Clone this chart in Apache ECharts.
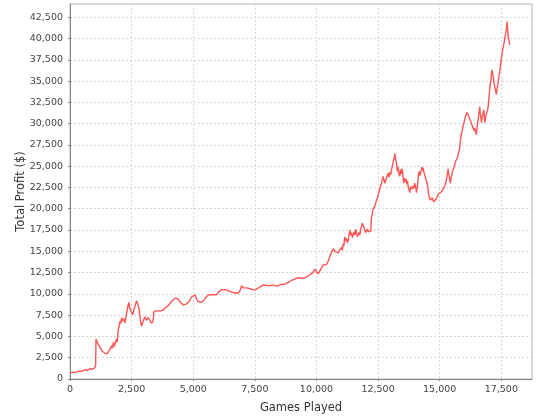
<!DOCTYPE html>
<html>
<head>
<meta charset="utf-8">
<script src="https://cdn.jsdelivr.net/npm/echarts@6/dist/echarts.min.js"></script>
<style>html,body{margin:0;padding:0;background:#fff}#c{width:540px;height:420px}</style>
</head>
<body>
<div id="c"></div>
<script>
var games = [0,100,250,400,500,600,700,800,900,1000,1040,1055,1100,1200,1300,1400,1490,1560,1620,1680,1720,1760,1800,1850,1890,1920,1950,2000,2030,2060,2095,2120,2150,2175,2200,2230,2255,2280,2330,2360,2390,2420,2460,2500,2540,2600,2635,2700,2750,2800,2850,2900,2950,3000,3050,3100,3175,3230,3310,3370,3405,3450,3520,3600,3650,3720,3800,3870,3920,3980,4050,4120,4180,4260,4320,4390,4450,4520,4595,4650,4720,4800,4865,4920,5000,5070,5120,5200,5270,5340,5405,5470,5540,5600,5680,5745,5800,5880,5950,6020,6100,6160,6215,6300,6400,6480,6555,6620,6700,6760,6830,6900,6965,7030,7100,7170,7235,7300,7400,7500,7575,7650,7720,7840,7920,8000,8110,8200,8300,8400,8515,8600,8700,8790,8900,9000,9100,9195,9280,9350,9450,9530,9600,9680,9730,9800,9850,9935,10000,10070,10140,10200,10270,10340,10410,10480,10545,10610,10680,10750,10800,10880,10950,
11020,11050,11080,11110,11150,11185,11220,11255,11290,11320,11355,11390,11420,11455,11490,11525,11560,11595,11625,11660,11690,11725,11760,11795,11830,11860,11895,11930,11960,11995,12030,12065,12100,12135,12165,12200,12230,
12300,12370,12435,12500,12570,12640,12705,12770,12840,
12910,12945,12980,13010,13045,13080,13120,13150,13180,13210,13245,13280,13310,13345,13380,13410,13440,13470,13490,13520,13545,13575,13600,13630,13660,13690,13720,13755,13790,13820,13850,13885,13920,13955,13990,14025,14060,14090,14110,14140,14165,14200,14230,14260,14280,14305,14325,14360,14390,14430,14465,14495,14520,14545,14570,
14630,14700,14750,14800,14870,14935,15000,15070,15140,15200,15275,
15340,15365,15390,15410,15435,15460,15490,15515,15545,15580,15610,15645,15680,15710,15730,15760,15785,15815,15840,15870,15900,15925,15950,15985,16020,16050,16085,16110,16140,16165,16190,16220,16245,16275,16300,16330,16355,16390,16420,16455,16490,16525,16560,16595,16625,16645,16660,16680,16695,16720,16740,16765,16790,16810,16830,16865,16900,16930,16960,
17000,17030,17055,17080,17100,17125,17150,17180,17205,17235,17265,17300,17320,17340,17355,17370,17400,17435,17470,17505,17535,17570,17600,17640,17665,17690,17710,17735,17750,17760,17775,17790,17800,17820,17840];
var profit = [700,800,780,950,900,1100,1000,1200,1150,1300,1600,4700,4300,3800,3300,3050,2950,3200,3500,3900,3600,4300,3800,4400,4700,4300,5600,6300,6800,6500,7200,6800,6600,7100,7000,6600,7000,7500,8200,8700,9000,8400,8100,7900,7550,8200,8500,9200,8800,8300,7000,6200,6600,7050,7300,6900,7200,7000,6550,6800,7900,7800,8000,7850,8000,7900,8100,8400,8350,8600,8800,9100,9000,9500,9300,9400,9100,8900,8700,8900,8800,9000,9200,9600,9800,9900,9500,9100,9300,9000,9100,9400,9700,9600,9900,10100,9900,10000,9900,10200,10400,10500,10700,10500,10400,10300,10200,10300,10100,10200,10100,10400,10950,10700,10600,10700,10500,10600,10500,10450,10400,10700,10900,11050,10950,11000,10950,11050,11000,10900,11050,11150,11100,11250,11400,11600,11700,11850,11900,11700,11800,11750,12000,12100,12250,12400,12500,12900,12600,12350,12700,13000,13400,13300,13450,13900,14400,14900,15300,15000,15200,14800,15200,
15500,15100,15900,15600,16700,16200,16500,16000,16300,16900,17500,16900,17200,16600,16800,17300,16900,17600,17400,16700,16600,17200,16900,17600,17900,18300,18500,17800,17600,17200,17100,17600,17300,17500,17100,17400,18900,
20000,20300,21000,21500,22400,23000,23800,23000,23600,
24200,23700,24300,24000,24600,25000,25600,25900,26500,25800,25400,24400,24900,24100,23800,24600,24100,24700,24400,23500,23000,23600,23200,23500,22900,23300,22600,22400,21900,22600,22800,22300,22700,22400,23000,22500,21900,22500,23000,24000,24400,23900,24300,24600,24900,24500,24800,24300,24000,23600,23400,22900,22500,21800,21400,
21000,21300,20800,20850,21200,21700,21800,22000,22200,22600,23400,
24700,24100,23800,23300,23000,23600,23900,24300,24600,24800,25100,25600,25500,25900,26000,26500,26300,27200,28000,28600,29000,29400,29600,30100,30500,30900,31000,31300,31200,31500,31400,30600,30800,30100,30200,29700,29800,29200,29500,29000,28700,29800,30500,31300,32000,31200,31000,30500,30100,30700,31000,31300,31600,30800,30100,30800,31200,31500,31800,
33000,34000,34700,35200,35900,36300,35800,35400,34700,34400,33900,33400,34000,34200,34600,34900,35500,36100,36900,37700,38300,38900,39300,40000,40400,40800,41200,42000,41300,41000,40200,40400,39900,39600,39250];
var xTitle = 'Games Played';
var yTitle = 'Total Profit ($)';

var data = games.map(function(g, i){ return [g, profit[i]]; });
function fmt(v){ return Math.round(v).toString().replace(/\B(?=(\d{3})+(?!\d))/g, ','); }
var chart = echarts.init(document.getElementById('c'), null, {renderer: 'canvas'});
var axisFont = {fontFamily: 'DejaVu Sans', fontSize: 9.5, color: '#444'};
chart.setOption({
  animation: false,
  backgroundColor: '#fff',
  grid: {left: 70, right: 8, top: 4, bottom: 41, containLabel: false, outerBoundsMode: 'none', show: true, borderColor: '#b4b4b4', borderWidth: 1, backgroundColor: '#fff'},
  xAxis: {
    type: 'value', min: 0, max: 18745, interval: 2500,
    name: xTitle, nameLocation: 'middle', nameGap: 23, nameMoveOverlap: false,
    nameTextStyle: {fontFamily: 'DejaVu Sans', fontSize: 11.5, color: '#333'},
    axisLine: {show: true, lineStyle: {color: '#888', width: 1}},
    axisTick: {show: true, length: 2, lineStyle: {color: '#888'}},
    axisLabel: Object.assign({margin: 6, showMaxLabel: false, formatter: fmt}, axisFont),
    splitLine: {show: true, lineStyle: {color: '#d6d6d6', type: [2, 2], width: 1}}
  },
  yAxis: {
    type: 'value', min: 0, max: 44050, interval: 2500,
    name: yTitle, nameLocation: 'middle', nameGap: 43, nameRotate: 90, nameMoveOverlap: false,
    nameTextStyle: {fontFamily: 'DejaVu Sans', fontSize: 11.5, color: '#333'},
    axisLine: {show: true, lineStyle: {color: '#888', width: 1}},
    axisTick: {show: true, length: 2, lineStyle: {color: '#888'}},
    axisLabel: Object.assign({margin: 7, showMaxLabel: false, formatter: fmt}, axisFont),
    splitLine: {show: true, lineStyle: {color: '#d6d6d6', type: [2, 2], width: 1}}
  },
  series: [{
    type: 'line', data: data, showSymbol: false, symbol: 'none', smooth: false,
    lineStyle: {color: '#ff5555', width: 1.4}, itemStyle: {color: '#ff5555'}
  }]
});
</script>
</body>
</html>
